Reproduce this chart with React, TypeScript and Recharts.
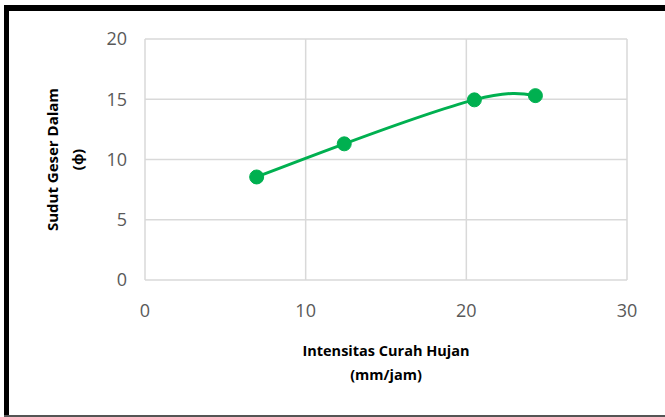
import { CartesianGrid, Label, Line, LineChart, XAxis, YAxis } from 'recharts';

const intensity = [6.95, 12.4, 20.5, 24.3];
const frictionAngle = [8.55, 11.3, 14.95, 15.3];
const xTicks = [0, 10, 20, 30];
const yTicks = [0, 5, 10, 15, 20];

const data = intensity.map((x, i) => ({ x, y: frictionAngle[i] }));

const GREEN = '#00b050';
const TICK = { fill: '#595959', fontSize: 18, fontFamily: 'Open Sans, sans-serif' };
const TITLE_FONT = { fontFamily: 'Open Sans, sans-serif', fontWeight: 700, fontSize: 14.5, fill: '#000' };

const XTitle = ({ viewBox }: any) => {
  const cx = viewBox.x + viewBox.width / 2;
  return (
    <text x={cx} y={0} textAnchor="middle" style={TITLE_FONT}>
      <tspan x={cx} y={356}>Intensitas Curah Hujan</tspan>
      <tspan x={cx} y={380}>(mm/jam)</tspan>
    </text>
  );
};

const YTitle = ({ viewBox }: any) => {
  const cy = viewBox.y + viewBox.height / 2;
  return (
    <text transform={`translate(0, ${cy}) rotate(-90)`} textAnchor="middle" style={{ ...TITLE_FONT, fontSize: 15 }}>
      <tspan x={0} y={58}>Sudut Geser Dalam</tspan>
      <tspan x={0} y={83}>(ϕ)</tspan>
    </text>
  );
};

const App = () => {
  return (
    <div style={{ position: 'absolute', left: 0, top: 0, width: 665, height: 417, background: '#fff' }}>
      <div style={{ position: 'absolute', left: 4, top: 5, width: 661, height: 6, background: '#000' }} />
      <div style={{ position: 'absolute', left: 4, top: 5, width: 5, height: 412, background: '#000' }} />
      <div style={{ position: 'absolute', left: 4, top: 415, width: 661, height: 2, background: '#555' }} />
      <div style={{ position: 'absolute', left: 0, top: 0 }}>
        <LineChart width={665} height={417} data={data} margin={{ top: 39, right: 38, left: 0, bottom: 0 }}>
          <CartesianGrid stroke="#d9d9d9" strokeWidth={1.5} />
          <XAxis
            dataKey="x"
            type="number"
            domain={[0, 30]}
            ticks={xTicks}
            axisLine={false}
            tickLine={false}
            tickMargin={18}
            height={137}
            tick={TICK}
            interval={0}
          >
            <Label content={XTitle} />
          </XAxis>
          <YAxis
            type="number"
            domain={[0, 20]}
            ticks={yTicks}
            axisLine={false}
            tickLine={false}
            tickMargin={12}
            width={145}
            tick={TICK}
            interval={0}
          >
            <Label content={YTitle} />
          </YAxis>
          <Line
            type="natural"
            dataKey="y"
            stroke={GREEN}
            strokeWidth={3}
            dot={{ r: 7, fill: GREEN, stroke: GREEN, strokeWidth: 1 }}
            activeDot={false}
            isAnimationActive={false}
          />
        </LineChart>
      </div>
    </div>
  );
};

export default App;
